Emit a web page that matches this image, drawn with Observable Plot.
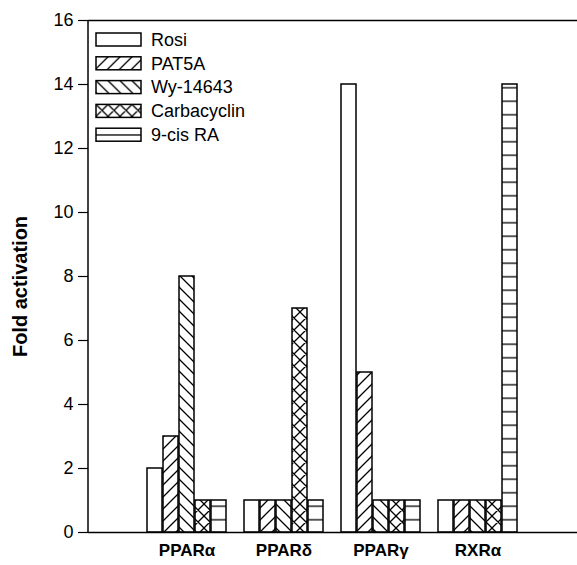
<!DOCTYPE html>
<html><head><meta charset="utf-8">
<script src="https://cdn.jsdelivr.net/npm/d3@7"></script>
<script src="https://cdn.jsdelivr.net/npm/@observablehq/plot@0.6"></script>
<style>
body{margin:0;background:#fff;}
#wrap{position:relative;width:577px;height:565px;font-family:"Liberation Sans",Arial,sans-serif;}
#wrap svg{display:block;}
#legend{position:absolute;left:0;top:0;}
</style></head><body>
<svg width="0" height="0" style="position:absolute">
  <defs>
    <pattern id="p0" patternUnits="userSpaceOnUse" width="12" height="12"><rect width="12" height="12" fill="#fff"/></pattern>
    <pattern id="p1" patternUnits="userSpaceOnUse" width="12" height="12"><rect width="12" height="12" fill="#fff"/><path d="M0,12L12,0M-3,3L3,-3M9,15L15,9" stroke="#000" stroke-width="1.3"/></pattern>
    <pattern id="p2" patternUnits="userSpaceOnUse" width="12" height="12"><rect width="12" height="12" fill="#fff"/><path d="M0,0L12,12M-3,9L3,15M9,-3L15,3" stroke="#000" stroke-width="1.3"/></pattern>
    <pattern id="p3" patternUnits="userSpaceOnUse" width="12" height="12"><rect width="12" height="12" fill="#fff"/><path d="M0,12L12,0M-3,3L3,-3M9,15L15,9M0,0L12,12M-3,9L3,15M9,-3L15,3" stroke="#000" stroke-width="1.3"/></pattern>
    <pattern id="p4" patternUnits="userSpaceOnUse" width="12" height="13.5"><rect width="12" height="13.5" fill="#fff"/><path d="M-1,6.75H13" stroke="#000" stroke-width="1.3"/></pattern>
  </defs>
</svg>
<div id="wrap"></div>
<script>
// ---- data ----
const groups = ["PPARα", "PPARδ", "PPARγ", "RXRα"];
const series = ["Rosi", "PAT5A", "Wy-14643", "Carbacyclin", "9-cis RA"];
const rosi  = [2, 1, 14, 1];
const pat5a = [3, 1, 5, 1];
const wy    = [8, 1, 1, 1];
const carba = [1, 7, 1, 1];
const cisRA = [1, 1, 1, 14];
const yTicks = [0, 2, 4, 6, 8, 10, 12, 14, 16];
const seriesValues = [rosi, pat5a, wy, carba, cisRA];

const data = series.flatMap((s, i) => groups.map((g, j) => ({group: g, series: s, si: i, value: seriesValues[i][j]})));

// ---- style ----
const barW = 16;
const fills = ["url(#p0)", "url(#p1)", "url(#p2)", "url(#p3)", "url(#p4)"];
const nS = series.length;
const FONT = "'Liberation Sans', Arial, sans-serif";

const barMarks = series.map((s, i) => Plot.barY(data.filter(d => d.si === i), {
  x: "group", y: "value",
  fill: fills[i], stroke: "#000", strokeWidth: 1.5,
  insetLeft: i * barW, insetRight: (nS - 1 - i) * barW
}));

const chart = Plot.plot({
  width: 577, height: 565,
  marginLeft: 88, marginRight: 0, marginTop: 20, marginBottom: 33,
  style: {fontFamily: FONT, fontSize: "18px", background: "#fff", color: "#000"},
  x: {domain: groups, paddingInner: 0.1837, paddingOuter: 0.587, align: 0.5, label: null},
  y: {domain: [0, 16], label: null},
  marks: [
    ...barMarks,
    Plot.ruleY([0, 16], {stroke: "#000", strokeWidth: 1.5}),
    Plot.axisY({ticks: yTicks, tickSize: 10, tickPadding: 5, fontSize: 18, label: null, strokeWidth: 1.2}),
    Plot.axisX({tickSize: 0, tickPadding: 11, fontSize: 17, fontWeight: "bold", label: null}),
    Plot.text(["Fold activation"], {frameAnchor: "left", textAnchor: "middle", dx: -68, dy: 10, rotate: -90, fontSize: 20, fontWeight: "bold", fill: "#000"})
  ]
});

// y axis line along the left edge of the frame, from the y scale
const ys = chart.scale("y");
d3.select(chart).append("line")
  .attr("x1", 88).attr("x2", 88)
  .attr("y1", ys.apply(0)).attr("y2", ys.apply(16))
  .attr("stroke", "#000").attr("stroke-width", 1.5);

const wrap = document.getElementById("wrap");
wrap.appendChild(chart);

// legend overlay
const lg = d3.select(wrap).append("svg").attr("id", "legend").attr("width", 577).attr("height", 565);
const rowH = 23.8, top0 = 33;
series.forEach((s, i) => {
  const g = lg.append("g").attr("transform", `translate(96,${top0 + i * rowH})`);
  g.append("rect").attr("width", 45).attr("height", 13).attr("fill", fills[i]).attr("stroke", "#000").attr("stroke-width", 1.5);
  g.append("text").attr("x", 55).attr("y", 6.5).attr("dy", "0.35em").attr("font-size", 18)
    .attr("font-family", FONT).text(s);
});
</script>
</body></html>
